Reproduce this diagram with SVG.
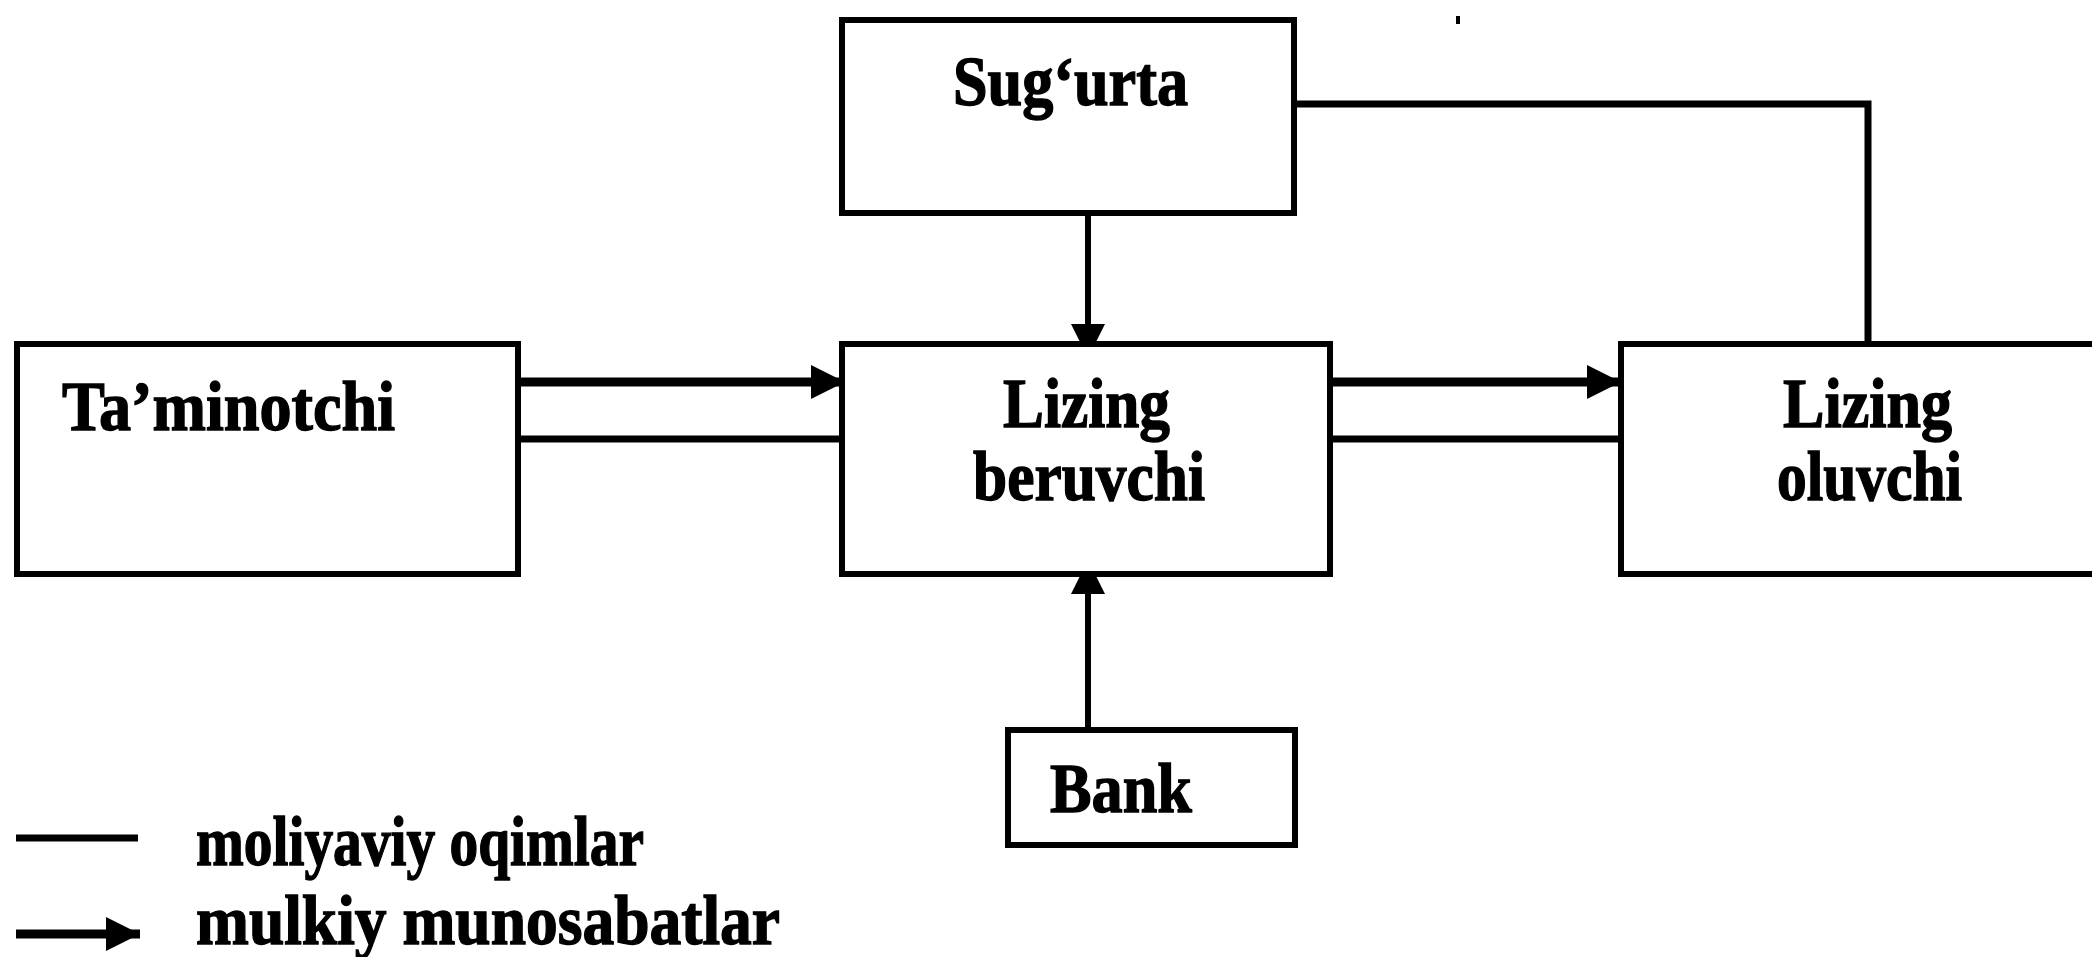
<svg xmlns="http://www.w3.org/2000/svg" width="2092" height="957" viewBox="0 0 2092 957">
<style>
.box{fill:#fff;stroke:#000;stroke-width:6}
.t{font-family:"Liberation Serif","Times New Roman",serif;font-weight:bold;font-size:70px;fill:#000;stroke:#000;stroke-width:1.4}
.fin{stroke:#000;stroke-width:7;fill:none}
.prop{stroke:#000;stroke-width:9;fill:none}
.conn{stroke:#000;stroke-width:6;fill:none}
</style>
<defs>
<marker id="ah" markerUnits="userSpaceOnUse" markerWidth="36" markerHeight="34" refX="34" refY="17" orient="auto">
<path d="M0,0 L34,17 L0,34 Z" fill="#000"/>
</marker>
</defs>
<rect width="2092" height="957" fill="#fff"/>
<g id="connectors">
<line class="prop" x1="518" y1="382" x2="845" y2="382" marker-end="url(#ah)"/>
<line class="fin" x1="518" y1="439" x2="842" y2="439"/>
<line class="prop" x1="1330" y1="382" x2="1621" y2="382" marker-end="url(#ah)"/>
<line class="fin" x1="1330" y1="439" x2="1621" y2="439"/>
<line class="conn" x1="1088" y1="213" x2="1088" y2="358" marker-end="url(#ah)"/>
<line class="conn" x1="1088" y1="730" x2="1088" y2="560" marker-end="url(#ah)"/>
<polyline class="fin" points="1294,104 1868,104 1868,344"/>
</g>
<g id="node-sugurta">
<rect class="box" x="842" y="20" width="452" height="193"/>
<text class="t" x="953" y="105" textLength="235" lengthAdjust="spacingAndGlyphs">Sug‘urta</text>
</g>
<g id="node-taminotchi">
<rect class="box" x="17" y="344" width="501" height="230"/>
<text class="t" x="62" y="430" textLength="333" lengthAdjust="spacingAndGlyphs">Ta’minotchi</text>
</g>
<g id="node-lizing-beruvchi">
<rect class="box" x="842" y="344" width="488" height="230"/>
<text class="t" x="1003" y="427" textLength="167" lengthAdjust="spacingAndGlyphs">Lizing</text>
<text class="t" x="973" y="500" textLength="232" lengthAdjust="spacingAndGlyphs">beruvchi</text>
</g>
<g id="node-lizing-oluvchi">
<rect class="box" x="1621" y="344" width="490" height="230"/>
<text class="t" x="1783" y="427" textLength="169" lengthAdjust="spacingAndGlyphs">Lizing</text>
<text class="t" x="1777" y="500" textLength="185" lengthAdjust="spacingAndGlyphs">oluvchi</text>
</g>
<g id="node-bank">
<rect class="box" x="1008" y="730" width="287" height="115"/>
<text class="t" x="1050" y="812" textLength="142" lengthAdjust="spacingAndGlyphs">Bank</text>
</g>
<g id="legend">
<line class="fin" x1="16" y1="838" x2="138" y2="838"/>
<text class="t" x="196" y="865" textLength="448" lengthAdjust="spacingAndGlyphs">moliyaviy oqimlar</text>
<line class="prop" x1="16" y1="934" x2="140" y2="934" marker-end="url(#ah)"/>
<text class="t" x="196" y="944" textLength="584" lengthAdjust="spacingAndGlyphs">mulkiy munosabatlar</text>
</g>
<rect x="1456" y="16" width="4" height="8" fill="#000"/>
</svg>
